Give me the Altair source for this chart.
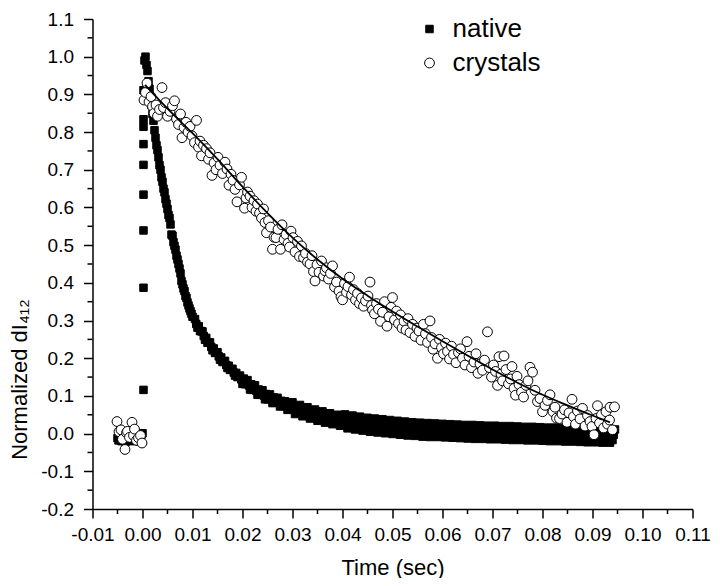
import altair as alt
import pandas as pd

# ---------------- data ----------------
# native: pre-trigger baseline (t = -0.0050 .. 0.0000, step 0.0002)
native_base_y = [-0.012, -0.018, -0.006, -0.015, -0.020, -0.008, -0.016, -0.004, -0.022, -0.010,
                 -0.018, -0.006, -0.014, -0.020, -0.008, -0.016, -0.004, -0.019, -0.011, -0.017,
                 -0.007, -0.015, -0.021, -0.010, -0.003, 0.001]
# native: rising edge at t = 0.0002
native_rise_y = [0.116, 0.387, 0.539, 0.634, 0.713, 0.768, 0.814, 0.834, 0.911]
# native: early decay (t = 0.0004 .. 0.0100, step 0.0002)
native_early_y = [0.990, 1.000, 0.978, 0.962, 0.935, 0.915, 0.890, 0.872, 0.848, 0.830,
                  0.805, 0.785, 0.765, 0.752, 0.733, 0.712, 0.700, 0.680, 0.668, 0.650,
                  0.640, 0.622, 0.610, 0.596, 0.580, 0.572, 0.555, 0.528, 0.525, 0.508,
                  0.498, 0.488, 0.472, 0.462, 0.450, 0.438, 0.425, 0.405, 0.396, 0.385,
                  0.378, 0.365, 0.360, 0.348, 0.340, 0.332, 0.325, 0.318, 0.310]
# native: late decay (t = 0.0105 .. 0.0945, step 0.00025)
native_tail_y = [
    0.304, 0.291, 0.281, 0.285, 0.272, 0.272, 0.271, 0.259, 0.249, 0.254, 0.241, 0.242,
    0.242, 0.230, 0.221, 0.226, 0.214, 0.215, 0.216, 0.205, 0.196, 0.202, 0.190, 0.192,
    0.193, 0.182, 0.174, 0.180, 0.169, 0.171, 0.172, 0.162, 0.154, 0.161, 0.150, 0.152,
    0.154, 0.144, 0.132, 0.146, 0.131, 0.137, 0.142, 0.128, 0.117, 0.131, 0.116, 0.122,
    0.128, 0.114, 0.103, 0.117, 0.103, 0.109, 0.115, 0.101, 0.091, 0.105, 0.091, 0.098,
    0.104, 0.091, 0.081, 0.096, 0.082, 0.089, 0.095, 0.082, 0.072, 0.087, 0.073, 0.080,
    0.086, 0.073, 0.063, 0.078, 0.065, 0.072, 0.083, 0.065, 0.052, 0.073, 0.056, 0.066,
    0.076, 0.058, 0.046, 0.067, 0.050, 0.060, 0.070, 0.052, 0.040, 0.061, 0.044, 0.054,
    0.064, 0.046, 0.034, 0.055, 0.038, 0.049, 0.059, 0.041, 0.029, 0.051, 0.034, 0.044,
    0.054, 0.037, 0.025, 0.047, 0.030, 0.040, 0.050, 0.033, 0.021, 0.043, 0.023, 0.038,
    0.051, 0.029, 0.014, 0.043, 0.020, 0.035, 0.048, 0.026, 0.011, 0.040, 0.017, 0.032,
    0.045, 0.022, 0.008, 0.037, 0.014, 0.029, 0.042, 0.020, 0.005, 0.034, 0.012, 0.026,
    0.040, 0.018, 0.003, 0.032, 0.010, 0.024, 0.038, 0.016, 0.001, 0.030, 0.007, 0.022,
    0.036, 0.013, -0.001, 0.028, 0.005, 0.020, 0.034, 0.012, -0.003, 0.027, 0.004, 0.019,
    0.032, 0.010, -0.005, 0.024, 0.002, 0.017, 0.030, 0.008, -0.006, 0.022, 0.000, 0.015,
    0.029, 0.007, -0.008, 0.021, -0.001, 0.014, 0.028, 0.006, -0.009, 0.020, -0.002, 0.013,
    0.027, 0.005, -0.009, 0.019, -0.003, 0.012, 0.026, 0.004, -0.010, 0.019, -0.004, 0.011,
    0.025, 0.003, -0.011, 0.018, -0.005, 0.010, 0.024, 0.002, -0.012, 0.017, -0.005, 0.009,
    0.023, 0.001, -0.013, 0.016, -0.006, 0.009, 0.023, 0.001, -0.014, 0.015, -0.007, 0.008,
    0.022, 0.000, -0.014, 0.015, -0.007, 0.008, 0.021, -0.001, -0.015, 0.014, -0.008, 0.007,
    0.021, -0.001, -0.015, 0.014, -0.009, 0.006, 0.020, -0.002, -0.016, 0.013, -0.009, 0.006,
    0.020, -0.002, -0.017, 0.012, -0.010, 0.005, 0.019, -0.003, -0.017, 0.012, -0.010, 0.005,
    0.018, -0.004, -0.018, 0.011, -0.011, 0.004, 0.018, -0.004, -0.018, 0.011, -0.012, 0.003,
    0.017, -0.005, -0.019, 0.010, -0.013, 0.002, 0.016, -0.006, -0.020, 0.009, -0.014, 0.001,
    0.016, -0.006, -0.020, 0.009, -0.014, 0.001, 0.015, -0.007, -0.021, 0.008, -0.014, 0.000,
    0.015, -0.007, -0.021, 0.007, -0.015, 0.000, 0.014, -0.008, -0.022, 0.007, -0.015, -0.001,
    0.014, -0.009, -0.023, 0.006, -0.016, -0.001, 0.013, -0.009, -0.023, 0.006, -0.016, -0.002,
    0.012, -0.010, -0.024, 0.005, -0.017, -0.002, 0.012, -0.010, -0.024, 0.004, -0.017, -0.003,
    0.011]

native_t = ([round(-0.005 + 0.0002 * i, 4) for i in range(len(native_base_y))]
            + [0.0002] * len(native_rise_y)
            + [round(0.0004 + 0.0002 * i, 4) for i in range(len(native_early_y))]
            + [round(0.0105 + 0.00025 * i, 5) for i in range(len(native_tail_y))])
native_y = native_base_y + native_rise_y + native_early_y + native_tail_y

# crystals (open circles)
crystal_t = [-0.0051, -0.0047, -0.0043, -0.0040, -0.0035, -0.0032, -0.0030, -0.0026, -0.0021, -0.0018,
             -0.0016, -0.0012, -0.0008, -0.0004, -0.0001,
             0.0003, 0.0006, 0.0009, 0.0013, 0.0017, 0.0020, 0.0023, 0.0027, 0.0030, 0.0034,
             0.0039, 0.0042, 0.0046, 0.0050, 0.0055, 0.0060, 0.0064, 0.0068, 0.0072, 0.0076,
             0.0079, 0.0083, 0.0087, 0.0091, 0.0095, 0.0099, 0.0104, 0.0108, 0.0112, 0.0115,
             0.0118, 0.0122, 0.0128, 0.0132, 0.0135, 0.0139, 0.0143, 0.0147, 0.0151, 0.0155,
             0.0160, 0.0165, 0.0169, 0.0173, 0.0177, 0.0181, 0.0185, 0.0189, 0.0194, 0.0198,
             0.0204, 0.0207, 0.0210, 0.0215, 0.0219, 0.0223, 0.0227, 0.0230, 0.0234, 0.0238,
             0.0242, 0.0245, 0.0248, 0.0252, 0.0256, 0.0260, 0.0263, 0.0267, 0.0271, 0.0276,
             0.0279, 0.0283, 0.0287, 0.0291, 0.0294, 0.0297, 0.0301, 0.0305, 0.0310, 0.0314,
             0.0318, 0.0322, 0.0326, 0.0330, 0.0335, 0.0339, 0.0342, 0.0345, 0.0349, 0.0353,
             0.0358, 0.0362, 0.0365, 0.0368, 0.0372, 0.0376, 0.0380, 0.0384, 0.0388, 0.0393,
             0.0397, 0.0400, 0.0404, 0.0408, 0.0411, 0.0414, 0.0418, 0.0422, 0.0426, 0.0430,
             0.0434, 0.0438, 0.0442, 0.0446, 0.0451, 0.0455, 0.0458, 0.0460, 0.0464, 0.0468,
             0.0472, 0.0476, 0.0480, 0.0484, 0.0489, 0.0493, 0.0497, 0.0500, 0.0504, 0.0508,
             0.0512, 0.0516, 0.0519, 0.0523, 0.0527, 0.0531, 0.0535, 0.0540, 0.0545, 0.0549,
             0.0553, 0.0557, 0.0562, 0.0566, 0.0570, 0.0575, 0.0578, 0.0581, 0.0585, 0.0590,
             0.0594, 0.0598, 0.0602, 0.0606, 0.0610, 0.0614, 0.0618, 0.0622, 0.0627, 0.0632,
             0.0636, 0.0640, 0.0645, 0.0649, 0.0653, 0.0658, 0.0663, 0.0667, 0.0671, 0.0675,
             0.0680, 0.0684, 0.0690, 0.0694, 0.0698, 0.0702, 0.0706, 0.0710, 0.0713, 0.0717,
             0.0720, 0.0723, 0.0727, 0.0732, 0.0736, 0.0739, 0.0743, 0.0746, 0.0749, 0.0753,
             0.0758, 0.0762, 0.0767, 0.0771, 0.0775, 0.0780, 0.0785, 0.0790, 0.0795, 0.0800,
             0.0805, 0.0810, 0.0815, 0.0821, 0.0825, 0.0828, 0.0834, 0.0839, 0.0844, 0.0849,
             0.0853, 0.0859, 0.0862, 0.0866, 0.0870, 0.0875, 0.0880, 0.0885, 0.0890, 0.0895,
             0.0899, 0.0903, 0.0907, 0.0910, 0.0914, 0.0918, 0.0922, 0.0927, 0.0930, 0.0934,
             0.0935, 0.0940, 0.0944]
crystal_y = [0.032, 0.005, 0.010, -0.015, -0.042, 0.002, 0.006, -0.010, 0.030, -0.005,
             0.012, -0.018, -0.011, -0.005, -0.025,
             0.885, 0.905, 0.930, 0.880, 0.894, 0.868, 0.850, 0.872, 0.842, 0.860,
             0.918, 0.865, 0.878, 0.842, 0.855, 0.870, 0.883, 0.835, 0.820, 0.848,
             0.785, 0.812, 0.826, 0.800, 0.815, 0.790, 0.772, 0.831, 0.760, 0.776,
             0.737, 0.765, 0.756, 0.728, 0.745, 0.685, 0.718, 0.700, 0.733, 0.712,
             0.690, 0.720, 0.702, 0.659, 0.688, 0.672, 0.648, 0.615, 0.660, 0.680,
             0.598, 0.625, 0.641, 0.630, 0.600, 0.618, 0.590, 0.609, 0.585, 0.572,
             0.596, 0.560, 0.533, 0.565, 0.548, 0.489, 0.521, 0.520, 0.542, 0.489,
             0.554, 0.515, 0.528, 0.505, 0.495, 0.537, 0.520, 0.482, 0.510, 0.470,
             0.498, 0.467, 0.478, 0.455, 0.450, 0.472, 0.430, 0.405, 0.448, 0.428,
             0.458, 0.418, 0.432, 0.440, 0.410, 0.425, 0.445, 0.389, 0.402, 0.378,
             0.363, 0.355, 0.398, 0.375, 0.390, 0.415, 0.368, 0.382, 0.355, 0.372,
             0.345, 0.360, 0.338, 0.352, 0.365, 0.402, 0.340, 0.328, 0.318, 0.345,
             0.330, 0.298, 0.322, 0.350, 0.285, 0.310, 0.335, 0.361, 0.302, 0.325,
             0.292, 0.315, 0.280, 0.298, 0.275, 0.305, 0.268, 0.290, 0.258, 0.280,
             0.272, 0.248, 0.290, 0.265, 0.242, 0.299, 0.255, 0.224, 0.238, 0.200,
             0.250, 0.228, 0.212, 0.240, 0.218, 0.198, 0.232, 0.210, 0.188, 0.215,
             0.225, 0.200, 0.182, 0.244, 0.205, 0.175, 0.190, 0.212, 0.160, 0.185,
             0.168, 0.195, 0.270, 0.175, 0.150, 0.182, 0.165, 0.128, 0.204, 0.158,
             0.140, 0.206, 0.170, 0.132, 0.145, 0.178, 0.120, 0.102, 0.152, 0.130,
             0.110, 0.097, 0.128, 0.140, 0.176, 0.163, 0.115, 0.085, 0.093, 0.058,
             0.075, 0.088, 0.103, 0.058, 0.070, 0.041, 0.040, 0.052, 0.063, 0.030,
             0.055, 0.091, 0.045, 0.025, 0.060, 0.039, 0.067, 0.020, 0.048, 0.032,
             0.019, -0.003, 0.040, 0.074, 0.028, 0.050, 0.015, 0.058, 0.025, 0.036,
             0.070, 0.010, 0.071]

# fitted curve through the crystal data
fit_t = [0.0005, 0.005, 0.010, 0.015, 0.020, 0.025, 0.030, 0.035, 0.040, 0.045,
         0.050, 0.055, 0.060, 0.065, 0.070, 0.075, 0.080, 0.085, 0.090, 0.0935]
fit_y = [0.925, 0.862, 0.797, 0.728, 0.655, 0.585, 0.520, 0.462, 0.411, 0.366,
         0.324, 0.284, 0.245, 0.207, 0.170, 0.135, 0.103, 0.075, 0.048, 0.030]

series_names = ["native", "crystals"]
x_ticks = [round(-0.01 + 0.01 * i, 2) for i in range(13)]
y_ticks = [round(-0.2 + 0.1 * i, 1) for i in range(14)]
x_minor = [round(-0.005 + 0.01 * i, 3) for i in range(12)]
y_minor = [round(-0.15 + 0.1 * i, 2) for i in range(13)]

# ---------------- chart ----------------
W, H = 600, 490
pts = pd.DataFrame({
    "t": native_t + crystal_t,
    "y": native_y + crystal_y,
    "series": ["native"] * len(native_t) + ["crystals"] * len(crystal_t),
})
fit = pd.DataFrame({"t": fit_t, "y": fit_y})

FONT = "Liberation Sans"
x_scale = alt.Scale(domain=[-0.01, 0.11], nice=False, zero=False)
y_scale = alt.Scale(domain=[-0.2, 1.1], nice=False, zero=False)

x_axis = alt.Axis(values=x_ticks, title="Time (sec)", labelFlush=False, labelOverlap=False,
                  labelExpr="datum.value < 0 ? '-' + format(-datum.value, '.2f') : format(datum.value, '.2f')",
                  titleY=58, titleBaseline="middle", labelPadding=7)
y_axis = alt.Axis(values=y_ticks, title="Normalized dI\u2084\u2081\u2082", labelFlush=False, labelOverlap=False,
                  labelExpr="datum.value < 0 ? '-' + format(-datum.value, '.1f') : format(datum.value, '.1f')",
                  titleX=-73, titleY=360, titleAlign="center", titleBaseline="middle",
                  titleAngle=-90, labelPadding=10)

legend = alt.Legend(title=None, orient="none", legendX=324, legendY=-3, padding=0,
                    labelFontSize=26, labelFont=FONT, labelOffset=10, rowPadding=8,
                    symbolStrokeWidth=1, labelColor="black")

points = alt.Chart(pts).mark_point(filled=True, strokeWidth=1, opacity=1).encode(
    x=alt.X("t:Q", scale=x_scale, axis=x_axis),
    y=alt.Y("y:Q", scale=y_scale, axis=y_axis),
    shape=alt.Shape("series:N", scale=alt.Scale(domain=series_names, range=["square", "circle"]), legend=legend),
    fill=alt.Fill("series:N", scale=alt.Scale(domain=series_names, range=["black", "white"]), legend=legend),
    stroke=alt.Stroke("series:N", scale=alt.Scale(domain=series_names, range=["black", "black"]), legend=legend),
    size=alt.Size("series:N", scale=alt.Scale(domain=series_names, range=[56, 96]), legend=legend),
)

line = alt.Chart(fit).mark_line(color="black", strokeWidth=1.8, interpolate="monotone").encode(
    x=alt.X("t:Q", scale=x_scale, axis=x_axis),
    y=alt.Y("y:Q", scale=y_scale, axis=y_axis),
)

minor_x_rules = alt.Chart(pd.DataFrame({"t": x_minor})).mark_rule(color="black", strokeWidth=1.5).encode(
    x=alt.X("t:Q", scale=x_scale, axis=x_axis),
    y=alt.value(H), y2=alt.value(H + 5),
)
minor_y_rules = alt.Chart(pd.DataFrame({"y": y_minor})).mark_rule(color="black", strokeWidth=1.5).encode(
    y=alt.Y("y:Q", scale=y_scale, axis=y_axis),
    x=alt.value(-5), x2=alt.value(0),
)

chart = alt.layer(points, line, minor_x_rules, minor_y_rules).properties(
    width=W, height=H, autosize="none",
    padding={"left": 84.5, "top": 11, "right": 19, "bottom": 69},
).configure_view(stroke=None).configure_axis(
    grid=False, domainColor="black", domainWidth=1.5, tickColor="black", tickWidth=1.5,
    tickSize=9, labelFont=FONT, labelFontSize=19, labelColor="black",
    titleFont=FONT, titleFontSize=22, titleFontWeight="normal", titleColor="black",
)

chart.save("out.html", embed_options={"renderer": "svg", "actions": False})
